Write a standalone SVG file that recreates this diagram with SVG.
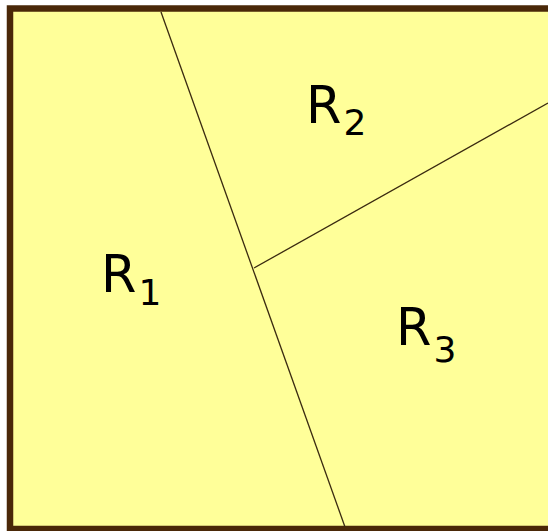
<svg xmlns="http://www.w3.org/2000/svg" width="548" height="531" viewBox="0 0 548 531">
<style>
.lbl{font-family:"DejaVu Sans",Verdana,sans-serif;font-size:51px;fill:#000}
.sub{font-size:36px}
.cut{stroke:#3a2a10;stroke-width:1.3;fill:none}
</style>
<rect x="0" y="0" width="548" height="531" fill="#ffffff"/>
<rect x="10" y="8.5" width="545" height="520.5" fill="#ffff99" stroke="#4a2808" stroke-width="6.5"/>
<g id="connectors">
<line class="cut" x1="161" y1="12" x2="345" y2="527"/>
<line class="cut" x1="254" y1="268" x2="548" y2="103"/>
</g>
<g id="R1"><text class="lbl" x="101" y="292">R<tspan class="sub" dx="2" dy="13">1</tspan></text></g>
<g id="R2"><text class="lbl" x="306" y="123">R<tspan class="sub" dx="2" dy="12">2</tspan></text></g>
<g id="R3"><text class="lbl" x="396" y="345">R<tspan class="sub" dx="2" dy="17">3</tspan></text></g>
</svg>
